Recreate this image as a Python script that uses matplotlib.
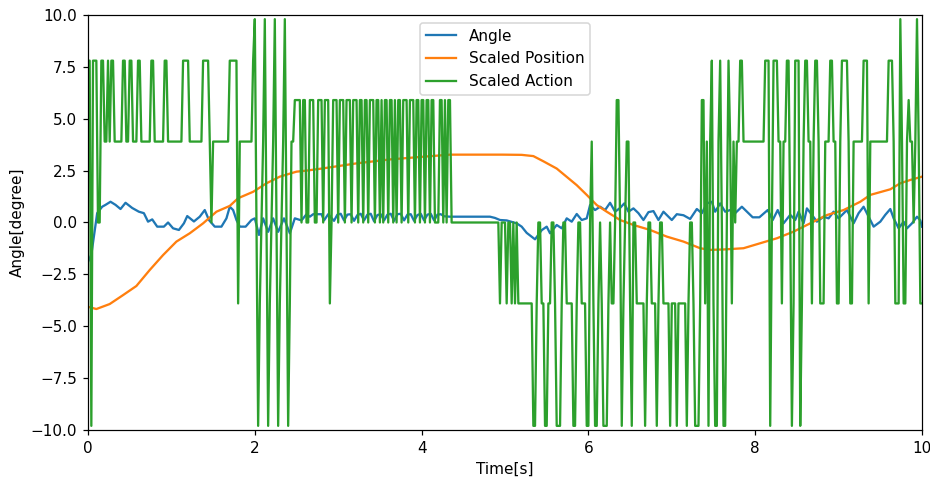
import numpy as np
import matplotlib
matplotlib.use("Agg")
import matplotlib.pyplot as plt

# controller sample time [s]
dt = 0.02

# pole angle [deg] at logged time stamps [s]
angle_t = [0.00, 0.04, 0.11, 0.17, 0.21, 0.27, 0.33, 0.39, 0.45, 0.53, 0.61, 0.67,
           0.72, 0.77, 0.83, 0.91, 0.96, 1.02, 1.09, 1.15, 1.19, 1.27, 1.34, 1.40,
           1.45, 1.52, 1.60, 1.66, 1.70, 1.74, 1.78, 1.82, 1.89, 1.96, 2.00, 2.05,
           2.10, 2.16, 2.22, 2.28, 2.35, 2.42, 2.48, 2.56, 2.62, 2.66, 2.70, 2.80,
           2.83, 2.88, 2.95, 2.99, 3.03, 3.07, 3.11, 3.15, 3.19, 3.23, 3.27, 3.31,
           3.35, 3.39, 3.43, 3.47, 3.51, 3.55, 3.59, 3.63, 3.67, 3.71, 3.75, 3.79,
           3.83, 3.87, 3.91, 3.95, 3.99, 4.03, 4.07, 4.11, 4.15, 4.19, 4.23, 4.27,
           4.34, 4.82, 4.88, 4.94, 5.02, 5.14, 5.20, 5.26, 5.36, 5.44, 5.50, 5.54,
           5.62, 5.68, 5.74, 5.80, 5.86, 5.92, 5.98, 6.02, 6.08, 6.14, 6.20, 6.26,
           6.32, 6.38, 6.43, 6.48, 6.54, 6.60, 6.66, 6.72, 6.78, 6.84, 6.90, 7.00,
           7.06, 7.14, 7.22, 7.30, 7.36, 7.42, 7.48, 7.52, 7.58, 7.64, 7.70, 7.76,
           7.84, 7.97, 8.05, 8.15, 8.21, 8.27, 8.34, 8.42, 8.48, 8.52, 8.58, 8.62,
           8.68, 8.74, 8.82, 8.88, 8.94, 9.00, 9.10, 9.18, 9.24, 9.30, 9.36, 9.42,
           9.50, 9.56, 9.62, 9.66, 9.72, 9.78, 9.82, 9.88, 9.94, 9.98, 10.00]
angle_v = [-1.90, -1.55, 0.45, 0.76, 0.85, 1.00, 0.85, 0.65, 0.95, 0.70, 0.52, 0.45,
           0.04, 0.15, -0.20, -0.20, 0.00, -0.28, -0.36, -0.04, 0.31, 0.05, 0.28, 0.60,
           0.12, -0.20, -0.20, 0.20, 0.76, 0.60, 0.12, -0.20, -0.20, 0.12, 0.20, -0.60,
           0.20, -0.45, 0.20, -0.45, 0.20, -0.52, 0.20, 0.10, 0.40, 0.28, 0.40, 0.40,
           0.10, 0.40, 0.08, 0.38, 0.42, 0.10, 0.38, 0.40, 0.08, 0.36, 0.42, 0.10,
           0.38, 0.42, 0.06, 0.36, 0.40, 0.10, 0.38, 0.42, 0.08, 0.40, 0.42, 0.10,
           0.38, 0.40, 0.08, 0.36, 0.42, 0.10, 0.38, 0.42, 0.10, 0.38, 0.40, 0.30,
           0.28, 0.28, 0.22, 0.12, 0.10, -0.04, -0.20, -0.50, -0.81, -0.37, -0.20, -0.52,
           -0.12, -0.28, 0.20, 0.04, 0.41, 0.12, 0.20, 0.84, 0.60, 0.76, 0.60, 0.95,
           0.52, 0.70, 0.92, 0.52, 0.68, 0.45, 0.12, 0.50, 0.55, 0.12, 0.52, 0.12,
           0.40, 0.35, 0.17, 0.65, 0.45, 0.92, 1.00, 0.52, 0.92, 0.52, 0.60, 0.45,
           0.76, 0.25, 0.25, 0.60, 0.12, 0.60, -0.04, 0.37, 0.12, 0.52, -0.04, 0.68,
           0.37, 0.04, 0.28, 0.20, 0.52, 0.20, 0.60, -0.04, 0.45, 0.76, 0.28, -0.20,
           0.04, 0.37, 0.65, 0.20, -0.28, 0.04, -0.28, -0.04, 0.28, 0.10, -0.20]

# cart position, scaled to share the angle axis
pos_t = [0.00, 0.10, 0.26, 0.42, 0.58, 0.74, 0.90, 1.06, 1.22, 1.38, 1.54, 1.70,
         1.80, 1.98, 2.14, 2.30, 2.50, 2.62, 2.82, 3.22, 3.62, 4.02, 4.34, 4.97,
         5.20, 5.34, 5.46, 5.62, 5.74, 5.86, 5.98, 6.10, 6.22, 6.38, 6.54, 6.74,
         6.94, 7.14, 7.34, 7.46, 7.62, 7.86, 8.06, 8.26, 8.46, 8.66, 8.86, 9.06,
         9.26, 9.38, 9.62, 9.74, 9.86, 10.00]
pos_v = [-4.06, -4.17, -3.93, -3.50, -3.06, -2.29, -1.57, -0.92, -0.52, -0.04, 0.52, 0.80,
         1.17, 1.48, 1.89, 2.21, 2.45, 2.50, 2.61, 2.85, 3.04, 3.17, 3.27, 3.27,
         3.26, 3.20, 2.95, 2.60, 2.20, 1.80, 1.33, 0.84, 0.52, 0.12, -0.12, -0.36,
         -0.68, -0.92, -1.24, -1.32, -1.30, -1.24, -1.00, -0.76, -0.44, -0.04, 0.36, 0.60,
         1.00, 1.33, 1.60, 1.89, 2.05, 2.21]

# discrete action levels after scaling
A, B, C, D, Z, N, M = 9.8, 7.8, 5.9, 3.9, 0.0, -3.9, -9.8

# action as (level, number of samples held)
act_runs = [
    (B, 2), (M, 1), (B, 3), (Z, 2), (B, 2), (D, 2), (B, 1), (D, 1), (B, 2), (D, 5),
    (B, 2), (D, 2), (B, 2), (D, 3), (B, 2), (D, 6), (B, 2), (D, 6), (B, 2), (D, 9),
    (B, 4), (D, 8), (B, 4), (D, 1), (Z, 1), (D, 10), (B, 5), (N, 1), (D, 8),
    (B, 1), (A, 1), (Z, 1), (M, 1), (N, 1), (Z, 1), (D, 1), (A, 1), (Z, 1), (M, 1),
    (N, 1), (Z, 1), (D, 1), (A, 1), (Z, 1), (M, 1), (N, 1), (Z, 1), (D, 1), (A, 1),
    (Z, 1), (M, 1), (N, 1), (D, 2),
    (C, 4), (Z, 1), (C, 2), (Z, 2), (C, 3), (Z, 2), (C, 3), (Z, 1), (C, 3), (N, 1),
    (Z, 1), (C, 3), (Z, 1), (C, 3), (Z, 1), (C, 3), (Z, 1), (C, 3), (Z, 1), (C, 2),
    (Z, 1), (C, 2), (Z, 1), (C, 3), (Z, 1), (C, 2), (Z, 1), (C, 1), (Z, 1), (C, 2),
    (Z, 1), (C, 2), (Z, 1), (C, 1), (Z, 1), (C, 2), (Z, 1), (C, 3), (Z, 1), (C, 3),
    (Z, 1), (C, 2), (Z, 1), (C, 2), (Z, 1), (C, 2), (Z, 1), (C, 2), (Z, 3), (C, 2),
    (Z, 1), (C, 1), (Z, 1), (C, 2),
    (Z, 29), (N, 1), (Z, 3), (N, 1), (Z, 2), (N, 1), (Z, 1), (N, 1), (Z, 1), (N, 9),
    (M, 2), (N, 1), (Z, 2), (N, 2), (M, 2), (N, 2), (Z, 2), (N, 1), (M, 3), (N, 1),
    (Z, 2), (N, 4), (M, 2), (N, 1), (Z, 2), (N, 3), (M, 2), (Z, 1), (D, 1), (N, 1),
    (M, 2), (N, 1), (Z, 1), (N, 1), (M, 3), (N, 1), (Z, 1), (N, 2), (Z, 1), (C, 2),
    (Z, 1), (M, 1), (N, 1), (Z, 1), (D, 2), (N, 1), (M, 1), (Z, 2), (N, 5), (M, 1),
    (N, 1), (Z, 2), (N, 3), (M, 1), (N, 1), (Z, 2), (N, 4), (M, 1), (N, 3), (M, 1),
    (N, 5), (M, 1), (N, 1), (Z, 2), (N, 1), (M, 3), (N, 1), (C, 2), (N, 1), (D, 1),
    (M, 1), (D, 1), (B, 1), (N, 1), (M, 2), (D, 1), (B, 1),
    (Z, 1), (M, 2), (Z, 1), (B, 1), (D, 1), (N, 1), (D, 1), (Z, 1), (D, 2), (B, 2),
    (D, 13), (B, 3), (M, 1), (Z, 1), (B, 3), (D, 2), (N, 1), (D, 2), (B, 2), (Z, 1),
    (M, 1), (N, 1), (B, 3), (M, 1), (N, 1), (D, 1), (B, 2), (D, 2), (N, 1), (D, 1),
    (B, 2), (D, 1), (N, 3),
    (D, 3), (B, 2), (D, 2), (N, 2), (D, 1), (B, 4), (D, 1), (N, 2), (D, 6), (B, 3),
    (N, 1), (D, 11), (B, 3), (D, 1), (N, 3), (A, 1), (D, 1), (N, 2), (D, 1), (C, 1),
    (D, 2), (Z, 1), (D, 1), (A, 1), (D, 1), (N, 2),
]

act_level = [lv for lv, n in act_runs]
act_count = [n for lv, n in act_runs]
action = np.repeat(act_level, act_count)
t_act = np.arange(len(action)) * dt

fig, ax = plt.subplots(figsize=(930 / 110, 478 / 110), dpi=110)
fig.subplots_adjust(left=88 / 930, right=922 / 930, top=1 - 15 / 478, bottom=1 - 430 / 478)

ax.plot(angle_t, angle_v, label='Angle')
ax.plot(pos_t, pos_v, label='Scaled Position')
ax.plot(t_act, action, label='Scaled Action')

ax.set_xlim(0, 10)
ax.set_ylim(-10, 10)
ax.set_xlabel('Time[s]')
ax.set_ylabel('Angle[degree]')
ax.legend(loc='upper center')

fig.savefig('out.png', dpi=110)
